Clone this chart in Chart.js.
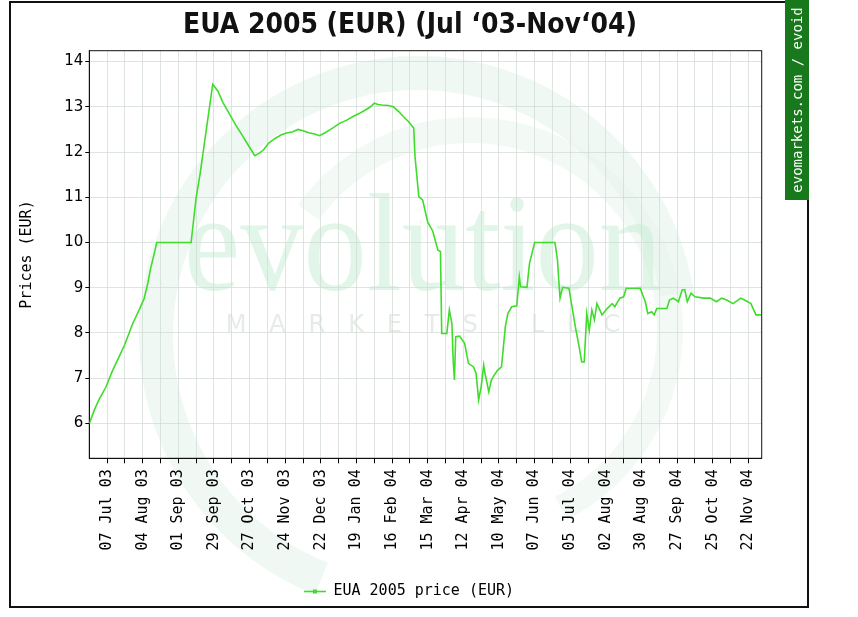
<!DOCTYPE html>
<html>
<head>
<meta charset="utf-8">
<title>EUA 2005 price</title>
<script src="https://cdn.jsdelivr.net/npm/chart.js@4.4.0/dist/chart.umd.min.js"></script>
<style>
    html, body { margin: 0; padding: 0; background: #fff; }
    #wrap { width: 858px; height: 617px; position: relative; }
</style>
</head>
<body>
<div id="wrap"><canvas id="euaChart"></canvas></div>
<script>
// Days counted from 07 Jul 2003 (the first labelled tick)
const days = [
    -14, -10, -6, -1, 4, 9, 14, 20, 25, 29, 32, 34, 37, 39, 66, 70, 73, 75, 79, 83,
    87, 91, 96, 101, 106, 111, 116, 120, 123, 127, 132, 137, 141, 146, 150, 154, 158, 163, 167, 171,
    175, 179, 183, 188, 193, 198, 203, 207, 210, 213, 216, 221, 225, 229, 233, 237, 241, 242, 245, 248,
    252, 256, 260, 262, 263, 267, 269, 271, 272, 273, 274, 277, 281, 284, 288, 290, 292, 294, 296, 297,
    300, 302, 305, 307, 310, 313, 315, 318, 322, 324, 325, 330, 332, 336, 352, 354, 355, 356, 358, 363,
    365, 368, 371, 373, 375, 377, 379, 381, 383, 385, 389, 393, 397, 399, 403, 406, 408, 419, 423, 425,
    428, 430, 432, 440, 442, 445, 449, 452, 454, 456, 459, 462, 469, 474, 479, 483, 487, 492, 498, 501,
    506, 510, 514
];
const prices = [
    6.0, 6.3, 6.55, 6.8, 7.15, 7.45, 7.75, 8.2, 8.5, 8.75, 9.1, 9.4, 9.75, 10.0, 10.0, 11.0, 11.5, 11.9, 12.7, 13.5,
    13.35, 13.1, 12.85, 12.6, 12.38, 12.15, 11.92, 11.98, 12.05, 12.2, 12.3, 12.38, 12.42, 12.45, 12.5, 12.47, 12.43, 12.4, 12.36, 12.42,
    12.49, 12.56, 12.64, 12.7, 12.78, 12.85, 12.93, 13.0, 13.08, 13.05, 13.04, 13.03, 13.0, 12.9, 12.78, 12.67, 12.53, 11.9, 11.01, 10.94,
    10.45, 10.25, 9.83, 9.8, 7.99, 7.99, 8.51, 8.21, 7.4, 6.96, 7.92, 7.93, 7.77, 7.33, 7.25, 7.11, 6.52, 6.81, 7.29, 7.11,
    6.7, 6.96, 7.1, 7.18, 7.25, 8.14, 8.43, 8.58, 8.6, 9.24, 9.02, 9.01, 9.54, 10.0, 10.0, 9.61, 9.17, 8.77, 9.01, 8.99,
    8.65, 8.14, 7.7, 7.36, 7.36, 8.43, 8.06, 8.51, 8.29, 8.65, 8.4, 8.54, 8.65, 8.58, 8.77, 8.8, 8.99, 8.99, 8.69, 8.43,
    8.47, 8.4, 8.54, 8.54, 8.73, 8.77, 8.69, 8.95, 8.96, 8.69, 8.88, 8.8, 8.77, 8.77, 8.69, 8.77, 8.73, 8.65, 8.77, 8.73,
    8.65, 8.4, 8.4
];

// one label every 28 days, starting at day 0
const xTickLabels = [
    '07 Jul 03', '04 Aug 03', '01 Sep 03', '29 Sep 03', '27 Oct 03', '24 Nov 03', '22 Dec 03',
    '19 Jan 04', '16 Feb 04', '15 Mar 04', '12 Apr 04', '10 May 04', '07 Jun 04', '05 Jul 04',
    '02 Aug 04', '30 Aug 04', '27 Sep 04', '25 Oct 04', '22 Nov 04'
];
const yTicks = [6, 7, 8, 9, 10, 11, 12, 13, 14];

const seriesName = 'EUA 2005 price (EUR)';
const chartTitle = 'EUA 2005 (EUR) (Jul \u201803-Nov\u201804)';
const yTitle = 'Prices (EUR)';
const badgeText = 'evomarkets.com / evoid';

const lineGreen = '#3fdc2c';
const gridColor = 'rgba(208,218,211,0.7)';
const monoFamily = '"DejaVu Sans Mono", "Liberation Mono", monospace';

// gridlines every two weeks
const gridDays = [];
for (let d = 0; d <= 504; d += 14) gridDays.push(d);

const points = days.map((d, i) => ({ x: d, y: prices[i] }));

// Background logo, frame, title, badge
const decorPlugin = {
    id: 'decor',
    beforeDraw(chart) {
        const ctx = chart.ctx;
        ctx.save();
        ctx.fillStyle = '#fff';
        ctx.fillRect(0, 0, chart.width, chart.height);

        // faint watermark
        ctx.strokeStyle = 'rgba(224,242,231,0.5)';
        ctx.lineWidth = 34;
        ctx.beginPath();
        ctx.arc(418, 335, 262, Math.PI * 0.62, Math.PI * 1.95);
        ctx.stroke();
        ctx.strokeStyle = 'rgba(228,244,234,0.45)';
        ctx.lineWidth = 26;
        ctx.beginPath();
        ctx.arc(470, 330, 200, Math.PI * 1.2, Math.PI * 0.35);
        ctx.stroke();

        ctx.font = '140px "Liberation Serif", "DejaVu Serif", serif';
        const w = ctx.measureText('evolution').width;
        ctx.save();
        ctx.translate(423, 290);
        ctx.scale(478 / w, 1);
        ctx.fillStyle = 'rgba(200,236,213,0.55)';
        ctx.textAlign = 'center';
        ctx.textBaseline = 'alphabetic';
        ctx.fillText('evolution', 0, 0);
        ctx.restore();

        ctx.font = '24px "DejaVu Sans", sans-serif';
        ctx.fillStyle = 'rgba(205,215,210,0.5)';
        ctx.textAlign = 'center';
        ctx.fillText('M   A   R   K   E   T   S       L   L   C', 423, 326);
        ctx.restore();
    },
    beforeDatasetsDraw(chart) {
        const a = chart.chartArea;
        const ctx = chart.ctx;
        ctx.save();
        ctx.strokeStyle = '#111';
        ctx.lineWidth = 1;
        ctx.strokeRect(a.left, a.top, a.right - a.left, a.bottom - a.top);
        ctx.restore();
    },
    afterDraw(chart) {
        const ctx = chart.ctx;
        ctx.save();

        // outer frame
        ctx.strokeStyle = '#111';
        ctx.lineWidth = 2;
        ctx.beginPath();
        ctx.moveTo(785, 2);
        ctx.lineTo(10, 2);
        ctx.lineTo(10, 607);
        ctx.lineTo(808, 607);
        ctx.lineTo(808, 200);
        ctx.stroke();

        // green badge
        ctx.fillStyle = '#17791b';
        ctx.fillRect(785, 0, 24, 200);
        ctx.save();
        ctx.translate(798, 100);
        ctx.rotate(-Math.PI / 2);
        ctx.fillStyle = '#fff';
        ctx.font = '14px ' + monoFamily;
        ctx.textAlign = 'center';
        ctx.textBaseline = 'middle';
        ctx.fillText(badgeText, 0, 0);
        ctx.restore();

        // title
        ctx.font = 'bold 28px "Liberation Sans Narrow", "DejaVu Sans Condensed", "Liberation Sans", sans-serif';
        const tw = ctx.measureText(chartTitle).width;
        ctx.translate(410, 33);
        ctx.scale(454 / tw, 1);
        ctx.fillStyle = '#111';
        ctx.textAlign = 'center';
        ctx.textBaseline = 'alphabetic';
        ctx.fillText(chartTitle, 0, 0);
        ctx.restore();

        // small square marker on the legend line
        const hb = chart.legend && chart.legend.legendHitBoxes && chart.legend.legendHitBoxes[0];
        if (hb) {
            ctx.save();
            ctx.fillStyle = lineGreen;
            ctx.fillRect(hb.left + 11 - 2, hb.top + hb.height / 2 - 2, 4, 4);
            ctx.restore();
        }
    }
};

const ctx = document.getElementById('euaChart').getContext('2d');
const chart = new Chart(ctx, {
    type: 'line',
    data: {
        datasets: [{
            label: seriesName,
            data: points,
            borderColor: lineGreen,
            backgroundColor: lineGreen,
            borderWidth: 1.6,
            pointRadius: 0,
            tension: 0,
            fill: false
        }]
    },
    options: {
        responsive: true,
        maintainAspectRatio: false,
        animation: false,
        layout: { padding: { left: 10, right: 50, top: 50.7, bottom: 8 } },
        plugins: {
            title: { display: false },
            tooltip: { enabled: false },
            legend: {
                position: 'bottom',
                labels: {
                    usePointStyle: true,
                    pointStyle: 'line',
                    pointStyleWidth: 22,
                    color: '#000',
                    padding: 10,
                    font: { family: monoFamily, size: 15 }
                }
            }
        },
        scales: {
            x: {
                type: 'linear',
                min: -14,
                max: 514.5,
                afterBuildTicks: s => { s.ticks = gridDays.map(v => ({ value: v })); },
                afterFit: s => { s.height = 115.7; },
                grid: { color: gridColor, lineWidth: 1, tickLength: 5, tickColor: '#000' },
                border: { display: true, color: '#111', width: 1 },
                ticks: {
                    autoSkip: false,
                    minRotation: 90,
                    maxRotation: 90,
                    padding: 6,
                    color: '#000',
                    font: { family: monoFamily, size: 15 },
                    callback: v => (v % 28 === 0 ? xTickLabels[v / 28] : '')
                }
            },
            y: {
                min: 5.23,
                max: 14.24,
                afterBuildTicks: s => { s.ticks = yTicks.map(v => ({ value: v })); },
                afterFit: s => { s.width = 79.3; },
                grid: { color: gridColor, lineWidth: 1, tickLength: 4, tickColor: '#000' },
                border: { display: true, color: '#111', width: 1 },
                ticks: {
                    padding: 2,
                    color: '#000',
                    font: { family: '"DejaVu Sans", sans-serif', size: 15 }
                },
                title: {
                    display: true,
                    text: yTitle,
                    color: '#000',
                    padding: { top: 8, bottom: 0 },
                    font: { family: monoFamily, size: 15 }
                }
            },
            y2: {
                position: 'right',
                afterFit: s => { s.width = 46.3; },
                grid: { display: false, drawTicks: false },
                border: { display: false },
                ticks: { display: false }
            }
        }
    },
    plugins: [decorPlugin]
});
</script>
</body>
</html>
